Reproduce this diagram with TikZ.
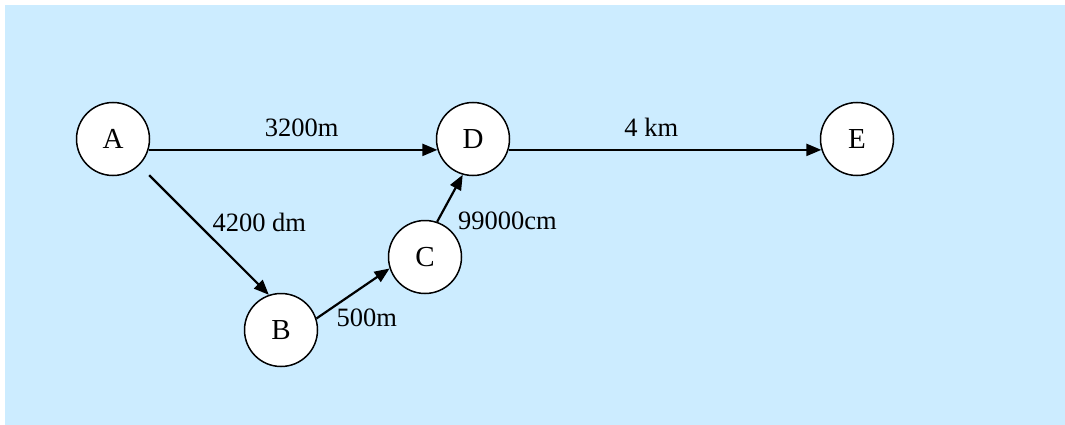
\documentclass[tikz,border=0pt]{standalone}
\usepackage{fontspec}
\setmainfont{Liberation Serif}
\usetikzlibrary{arrows.meta,positioning}
\definecolor{skyback}{RGB}{204,236,255}

\begin{document}
\begin{tikzpicture}[x=1pt, y=-1pt,
  place/.style={circle, draw=black, line width=1.5pt, fill=white, minimum size=73pt, inner sep=0pt, font=\fontsize{29}{34}\selectfont},
  link/.style={line width=2.2pt, -{Triangle[length=15pt,width=12pt]}},
  dist/.style={font=\fontsize{26.5}{31}\selectfont, inner sep=0pt}]
\useasboundingbox (0,0) rectangle (1065,425);
\fill[skyback] (5,5) rectangle (1065,425);
\node[place] (A) at (113,139) {A};
\node[place] (D) at (473,139) {D};
\node[place] (E) at (857,139) {E};
\node[place] (C) at (425,257) {C};
\node[place] (B) at (281,330) {B};
\draw[link] (A.-17) -- node[dist, pos=0.53, anchor=base, yshift=13pt] (lAD) {3200m} (D.-163);
\draw[link] (D.-17) -- node[dist, pos=0.456, anchor=base, yshift=13pt] (lDE) {4 km} (E.-163);
\draw[link, shorten <=14pt] (A.-45) -- node[dist, pos=0.48, anchor=base west, xshift=10pt, yshift=-4pt] (lAB) {4200 dm} (B.109);
\draw[link] (B.18) -- node[dist, pos=0, anchor=base west, xshift=19pt, yshift=-8pt] (lBC) {500m} (C.-162);
\draw[link] (C.71) -- node[dist, pos=0, anchor=base west, xshift=20pt, yshift=-8pt] (lCD) {99000cm} (D.-106);
\end{tikzpicture}
\end{document}
